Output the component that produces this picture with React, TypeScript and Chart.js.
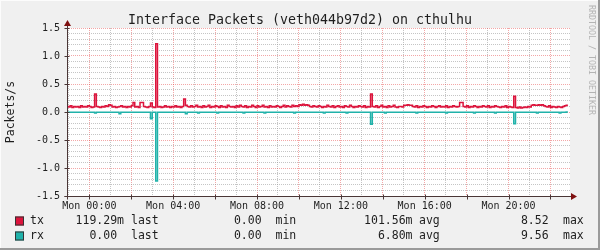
import React, { useEffect, useRef } from "react";
import { Chart, registerables } from "chart.js";

Chart.register(...registerables);

// ---------- data ----------
const TITLE = "Interface Packets (veth044b97d2) on cthulhu";
const Y_UNIT = "Packets/s";
const WATERMARK = "RRDTOOL / TOBI OETIKER";
const DAY_PREFIX = "Mon";

// time axis, in minutes from Mon 00:00
const X_MIN = -64;
const X_MAX = 1376;
const START_MIN = -65; // first sample
const STEP_MIN = 5; // sample spacing
const Y_MIN = -1.5;
const Y_MAX = 1.5;

// tx packets/s (plotted upward), one row = 2 hours
const TX = [
  0.12, 0.10, 0.09, 0.11, 0.08, 0.10, 0.09, 0.10, 0.08, 0.11, 0.09, 0.10, 0.09, 0.11, 0.10, 0.08, 0.09, 0.32, 0.10, 0.09, 0.08, 0.10, 0.09, 0.11,
  0.10, 0.13, 0.12, 0.09, 0.10, 0.08, 0.09, 0.10, 0.11, 0.09, 0.10, 0.08, 0.10, 0.09, 0.11, 0.17, 0.09, 0.10, 0.08, 0.17, 0.17, 0.10, 0.09, 0.08,
  0.10, 0.16, 0.09, 0.08, 1.22, 0.09, 0.10, 0.08, 0.09, 0.11, 0.09, 0.10, 0.08, 0.10, 0.09, 0.11, 0.09, 0.10, 0.08, 0.10, 0.23, 0.12, 0.10, 0.09,
  0.11, 0.09, 0.10, 0.12, 0.09, 0.10, 0.08, 0.11, 0.09, 0.10, 0.12, 0.08, 0.10, 0.09, 0.11, 0.10, 0.08, 0.11, 0.09, 0.10, 0.08, 0.12, 0.10, 0.09,
  0.10, 0.08, 0.11, 0.09, 0.12, 0.10, 0.09, 0.11, 0.08, 0.10, 0.09, 0.12, 0.10, 0.08, 0.11, 0.09, 0.10, 0.12, 0.09, 0.10, 0.08, 0.11, 0.09, 0.10,
  0.09, 0.11, 0.10, 0.08, 0.10, 0.12, 0.09, 0.11, 0.10, 0.09, 0.12, 0.10, 0.11, 0.10, 0.13, 0.12, 0.14, 0.12, 0.13, 0.12, 0.10, 0.09, 0.11, 0.10,
  0.09, 0.11, 0.10, 0.08, 0.10, 0.09, 0.12, 0.10, 0.09, 0.11, 0.08, 0.10, 0.11, 0.09, 0.10, 0.08, 0.11, 0.10, 0.09, 0.12, 0.10, 0.08, 0.10, 0.09,
  0.11, 0.10, 0.09, 0.11, 0.08, 0.10, 0.09, 0.32, 0.10, 0.09, 0.11, 0.08, 0.10, 0.12, 0.09, 0.10, 0.08, 0.11, 0.09, 0.10, 0.12, 0.09, 0.08, 0.10,
  0.10, 0.09, 0.12, 0.12, 0.13, 0.12, 0.12, 0.10, 0.09, 0.11, 0.08, 0.10, 0.09, 0.11, 0.10, 0.08, 0.10, 0.09, 0.11, 0.10, 0.08, 0.10, 0.11, 0.09,
  0.10, 0.09, 0.11, 0.08, 0.10, 0.09, 0.11, 0.10, 0.09, 0.10, 0.17, 0.17, 0.10, 0.09, 0.11, 0.08, 0.10, 0.09, 0.11, 0.10, 0.08, 0.10, 0.09, 0.11,
  0.10, 0.09, 0.11, 0.08, 0.10, 0.09, 0.11, 0.10, 0.09, 0.08, 0.10, 0.09, 0.11, 0.08, 0.10, 0.09, 0.08, 0.28, 0.08, 0.07, 0.09, 0.07, 0.08, 0.09,
  0.08, 0.10, 0.09, 0.12, 0.13, 0.12, 0.12, 0.13, 0.12, 0.13, 0.11, 0.10, 0.09, 0.11, 0.08, 0.10, 0.09, 0.08, 0.10, 0.09, 0.08, 0.10, 0.11, 0.1193,
];

// rx packets/s (plotted downward, mirrored), one row = 2 hours
const RX = [
  0.005, 0.005, 0.005, 0.005, 0.005, 0.005, 0.005, 0.005, 0.005, 0.005, 0.005, 0.005, 0.005, 0.005, 0.005, 0.005, 0.005, 0.02, 0.005, 0.005, 0.005, 0.005, 0.005, 0.005,
  0.005, 0.005, 0.005, 0.005, 0.005, 0.005, 0.005, 0.03, 0.005, 0.005, 0.005, 0.005, 0.005, 0.005, 0.005, 0.005, 0.005, 0.005, 0.005, 0.005, 0.005, 0.005, 0.005, 0.005,
  0.005, 0.12, 0.005, 0.005, 1.23, 0.005, 0.005, 0.005, 0.005, 0.005, 0.005, 0.005, 0.005, 0.005, 0.005, 0.005, 0.005, 0.005, 0.005, 0.005, 0.005, 0.03, 0.005, 0.005,
  0.005, 0.005, 0.005, 0.005, 0.02, 0.005, 0.005, 0.005, 0.005, 0.005, 0.005, 0.005, 0.005, 0.005, 0.005, 0.02, 0.005, 0.005, 0.005, 0.005, 0.005, 0.005, 0.005, 0.005,
  0.005, 0.005, 0.005, 0.005, 0.005, 0.005, 0.02, 0.005, 0.005, 0.005, 0.005, 0.005, 0.005, 0.005, 0.005, 0.005, 0.005, 0.005, 0.02, 0.005, 0.005, 0.005, 0.005, 0.005,
  0.005, 0.005, 0.005, 0.005, 0.005, 0.005, 0.005, 0.005, 0.005, 0.005, 0.005, 0.02, 0.005, 0.005, 0.005, 0.005, 0.005, 0.005, 0.005, 0.005, 0.005, 0.005, 0.005, 0.005,
  0.005, 0.005, 0.005, 0.005, 0.02, 0.005, 0.005, 0.005, 0.005, 0.005, 0.005, 0.005, 0.005, 0.005, 0.005, 0.005, 0.005, 0.02, 0.005, 0.005, 0.005, 0.005, 0.005, 0.005,
  0.005, 0.005, 0.005, 0.005, 0.005, 0.005, 0.005, 0.22, 0.005, 0.005, 0.005, 0.005, 0.005, 0.005, 0.005, 0.02, 0.005, 0.005, 0.005, 0.005, 0.005, 0.005, 0.005, 0.005,
  0.005, 0.005, 0.005, 0.005, 0.005, 0.005, 0.005, 0.005, 0.005, 0.02, 0.005, 0.005, 0.005, 0.005, 0.005, 0.005, 0.005, 0.005, 0.005, 0.005, 0.005, 0.005, 0.005, 0.005,
  0.005, 0.005, 0.02, 0.005, 0.005, 0.005, 0.005, 0.005, 0.005, 0.005, 0.005, 0.005, 0.005, 0.005, 0.005, 0.005, 0.005, 0.005, 0.02, 0.005, 0.005, 0.005, 0.005, 0.005,
  0.005, 0.005, 0.005, 0.005, 0.005, 0.005, 0.02, 0.005, 0.005, 0.005, 0.005, 0.005, 0.005, 0.005, 0.005, 0.005, 0.005, 0.21, 0.005, 0.005, 0.005, 0.005, 0.005, 0.005,
  0.005, 0.005, 0.005, 0.005, 0.005, 0.005, 0.02, 0.005, 0.005, 0.005, 0.005, 0.005, 0.005, 0.005, 0.005, 0.005, 0.005, 0.005, 0.005, 0.02, 0.005, 0.005, 0.005, 0.0,
];

const SERIES_NAMES = ["tx", "rx"];
const SERIES_COLORS = ["#DC143C", "#20B2AA"];
const STAT_LAST = ["119.29m", "0.00"];
const STAT_MIN = ["0.00", "0.00"];
const STAT_AVG = ["101.56m", "6.80m"];
const STAT_MAX = ["8.52", "9.56"];
const STAT_LABELS = ["last", "min", "avg", "max"];

// ---------- style ----------
const MONO = '"DejaVu Sans Mono", monospace';
const GRID_MINOR = "rgba(150,150,150,0.55)";
const GRID_MAJOR = "rgba(228,60,60,0.45)";
const AXIS_COLOR = "#4a3636";
const ARROW_COLOR = "#7f1010";
const TEXT_COLOR = "#1e1e1e";

function isMult(v: number, m: number) {
  const r = v / m;
  return Math.abs(r - Math.round(r)) < 1e-6;
}

function fmtStat(s: string) {
  return /[0-9]$/.test(s) ? s + " " : s;
}

const rrdPlugin = {
  id: "rrdFrame",
  beforeDraw(chart: any) {
    const { ctx, width, height, chartArea: a } = chart;
    ctx.save();
    ctx.fillStyle = "#F0F0F0";
    ctx.fillRect(0, 0, width, height);
    ctx.fillStyle = "#FCFCFC";
    ctx.fillRect(0, 0, width, 1);
    ctx.fillRect(0, 0, 1, height);
    ctx.fillStyle = "#9A9A9A";
    ctx.fillRect(0, height - 2, width, 2);
    ctx.fillRect(width - 2, 0, 2, height);
    ctx.fillStyle = "#FFFFFF";
    ctx.fillRect(a.left, a.top, a.right - a.left, a.bottom - a.top);
    ctx.restore();
  },
  afterDraw(chart: any) {
    const { ctx, chartArea: a } = chart;
    const xs = chart.scales.x;
    const ys = chart.scales.y;
    ctx.save();
    ctx.strokeStyle = AXIS_COLOR;
    ctx.lineWidth = 1;
    const ax = Math.round(a.left) + 0.5;
    const ay = Math.round(a.bottom) + 0.5;
    ctx.beginPath();
    ctx.moveTo(ax - 3, ay);
    ctx.lineTo(a.right + 2, ay);
    ctx.moveTo(ax, ay + 3);
    ctx.lineTo(ax, a.top - 4);
    ctx.stroke();
    ctx.beginPath();
    ys.ticks.forEach((t: any) => {
      if (isMult(t.value, 0.5)) {
        const py = Math.round(ys.getPixelForValue(t.value)) + 0.5;
        ctx.moveTo(ax - 3, py);
        ctx.lineTo(ax + 2, py);
      }
    });
    xs.ticks.forEach((t: any) => {
      if (isMult(t.value, 120)) {
        const px = Math.round(xs.getPixelForValue(t.value)) + 0.5;
        ctx.moveTo(px, ay - 2);
        ctx.lineTo(px, ay + 3);
      }
    });
    ctx.stroke();
    ctx.fillStyle = ARROW_COLOR;
    ctx.beginPath();
    const xr = a.right + 1;
    ctx.moveTo(xr, ay - 3.5);
    ctx.lineTo(xr + 6, ay);
    ctx.lineTo(xr, ay + 3.5);
    ctx.closePath();
    ctx.fill();
    ctx.beginPath();
    const yt = a.top - 2;
    ctx.moveTo(ax - 3.5, yt);
    ctx.lineTo(ax, yt - 6);
    ctx.lineTo(ax + 3.5, yt);
    ctx.closePath();
    ctx.fill();

    ctx.fillStyle = TEXT_COLOR;
    ctx.font = `13.3px ${MONO}`;
    ctx.textAlign = "center";
    ctx.textBaseline = "alphabetic";
    ctx.fillText(TITLE, 300, 23.5);
    ctx.save();
    ctx.translate(11, (a.top + a.bottom) / 2);
    ctx.rotate(-Math.PI / 2);
    ctx.font = `11.5px ${MONO}`;
    ctx.textBaseline = "middle";
    ctx.fillText(Y_UNIT, 0, 0);
    ctx.restore();
    ctx.save();
    ctx.translate(591, 5);
    ctx.rotate(Math.PI / 2);
    ctx.font = `8.3px ${MONO}`;
    ctx.fillStyle = "#B4B4B4";
    ctx.textAlign = "left";
    ctx.textBaseline = "middle";
    ctx.fillText(WATERMARK, 0, 0);
    ctx.restore();
    ctx.font = `11.5px ${MONO}`;
    ctx.textBaseline = "middle";
    const rowsY = [221, 236];
    SERIES_NAMES.forEach((name, i) => {
      const y = rowsY[i];
      ctx.fillStyle = SERIES_COLORS[i];
      ctx.fillRect(15, y - 4.5, 9, 9);
      ctx.strokeStyle = "#333";
      ctx.lineWidth = 1;
      ctx.strokeRect(15.5, y - 4, 8, 8);
      ctx.fillStyle = TEXT_COLOR;
      ctx.textAlign = "left";
      ctx.fillText(name, 30, y);
      const cols: [string, number, number][] = [
        [STAT_LAST[i], 124, 131],
        [STAT_MIN[i], 268.5, 275.5],
        [STAT_AVG[i], 412.5, 419],
        [STAT_MAX[i], 555.5, 563],
      ];
      cols.forEach(([val, end, lx], k) => {
        ctx.textAlign = "right";
        ctx.fillText(fmtStat(val), end, y);
        ctx.textAlign = "left";
        ctx.fillText(STAT_LABELS[k], lx, y);
      });
    });
    ctx.restore();
  },
};

export default function App() {
  const ref = useRef<HTMLCanvasElement | null>(null);
  useEffect(() => {
    if (!ref.current) return;
    const toPoints = (vals: number[], sign: number) =>
      vals.map((v, i) => ({ x: START_MIN + i * STEP_MIN, y: sign * v }));
    const chart = new Chart(ref.current, {
      type: "line",
      data: {
        datasets: [
          {
            label: SERIES_NAMES[0],
            data: toPoints(TX, 1),
            borderColor: SERIES_COLORS[0],
            borderWidth: 1.5,
            pointRadius: 0,
            stepped: "after",
            fill: false,
          },
          {
            label: SERIES_NAMES[1],
            data: toPoints(RX, -1),
            borderColor: SERIES_COLORS[1],
            borderWidth: 1.5,
            pointRadius: 0,
            stepped: "after",
            fill: false,
          },
        ],
      },
      options: {
        animation: false,
        responsive: false,
        events: [],
        layout: { padding: { left: 0, top: 28, right: 30, bottom: 0 } },
        plugins: {
          legend: { display: false },
          title: { display: false },
          tooltip: { enabled: false },
        },
        scales: {
          x: {
            type: "linear",
            min: X_MIN,
            max: X_MAX,
            afterBuildTicks: (s: any) => {
              const t = [];
              for (let h = -1; h <= 23; h++) {
                const v = h * 60;
                if (v >= X_MIN && v <= X_MAX) t.push({ value: v });
              }
              s.ticks = t;
            },
            afterFit: (s: any) => {
              s.height = 54;
              s.paddingLeft = 0;
              s.paddingRight = 0;
            },
            ticks: {
              autoSkip: false,
              maxRotation: 0,
              minRotation: 0,
              padding: 4,
              color: TEXT_COLOR,
              font: { family: MONO, size: 10 },
              callback: (v: any) => {
                const n = Number(v);
                if (n < 0 || !isMult(n, 240)) return "";
                const h = Math.round(n / 60);
                return `${DAY_PREFIX} ${String(h).padStart(2, "0")}:00`;
              },
            },
            grid: {
              drawTicks: false,
              lineWidth: 1,
              color: (c: any) =>
                c.tick && isMult(c.tick.value, 120) ? GRID_MAJOR : GRID_MINOR,
            },
            border: { display: false, dash: [1, 1] },
          },
          y: {
            type: "linear",
            min: Y_MIN,
            max: Y_MAX,
            afterBuildTicks: (s: any) => {
              const t = [];
              for (let i = -15; i <= 15; i++) t.push({ value: i / 10 });
              s.ticks = t;
            },
            afterFit: (s: any) => {
              s.width = 67;
              s.paddingTop = 0;
              s.paddingBottom = 0;
            },
            ticks: {
              autoSkip: false,
              padding: 7,
              color: TEXT_COLOR,
              font: { family: MONO, size: 10 },
              callback: (v: any) => {
                const n = Number(v);
                return isMult(n, 0.5) ? n.toFixed(1) : "";
              },
            },
            grid: {
              drawTicks: false,
              lineWidth: 1,
              color: (c: any) =>
                c.tick && isMult(c.tick.value, 0.5) ? GRID_MAJOR : GRID_MINOR,
            },
            border: { display: false, dash: [1, 1] },
          },
        },
      },
      plugins: [rrdPlugin],
    } as any);
    return () => chart.destroy();
  }, []);
  return (
    <div style={{ position: "absolute", left: 0, top: 0, width: 600, height: 250 }}>
      <canvas ref={ref} width={600} height={250} style={{ display: "block" }} />
    </div>
  );
}
